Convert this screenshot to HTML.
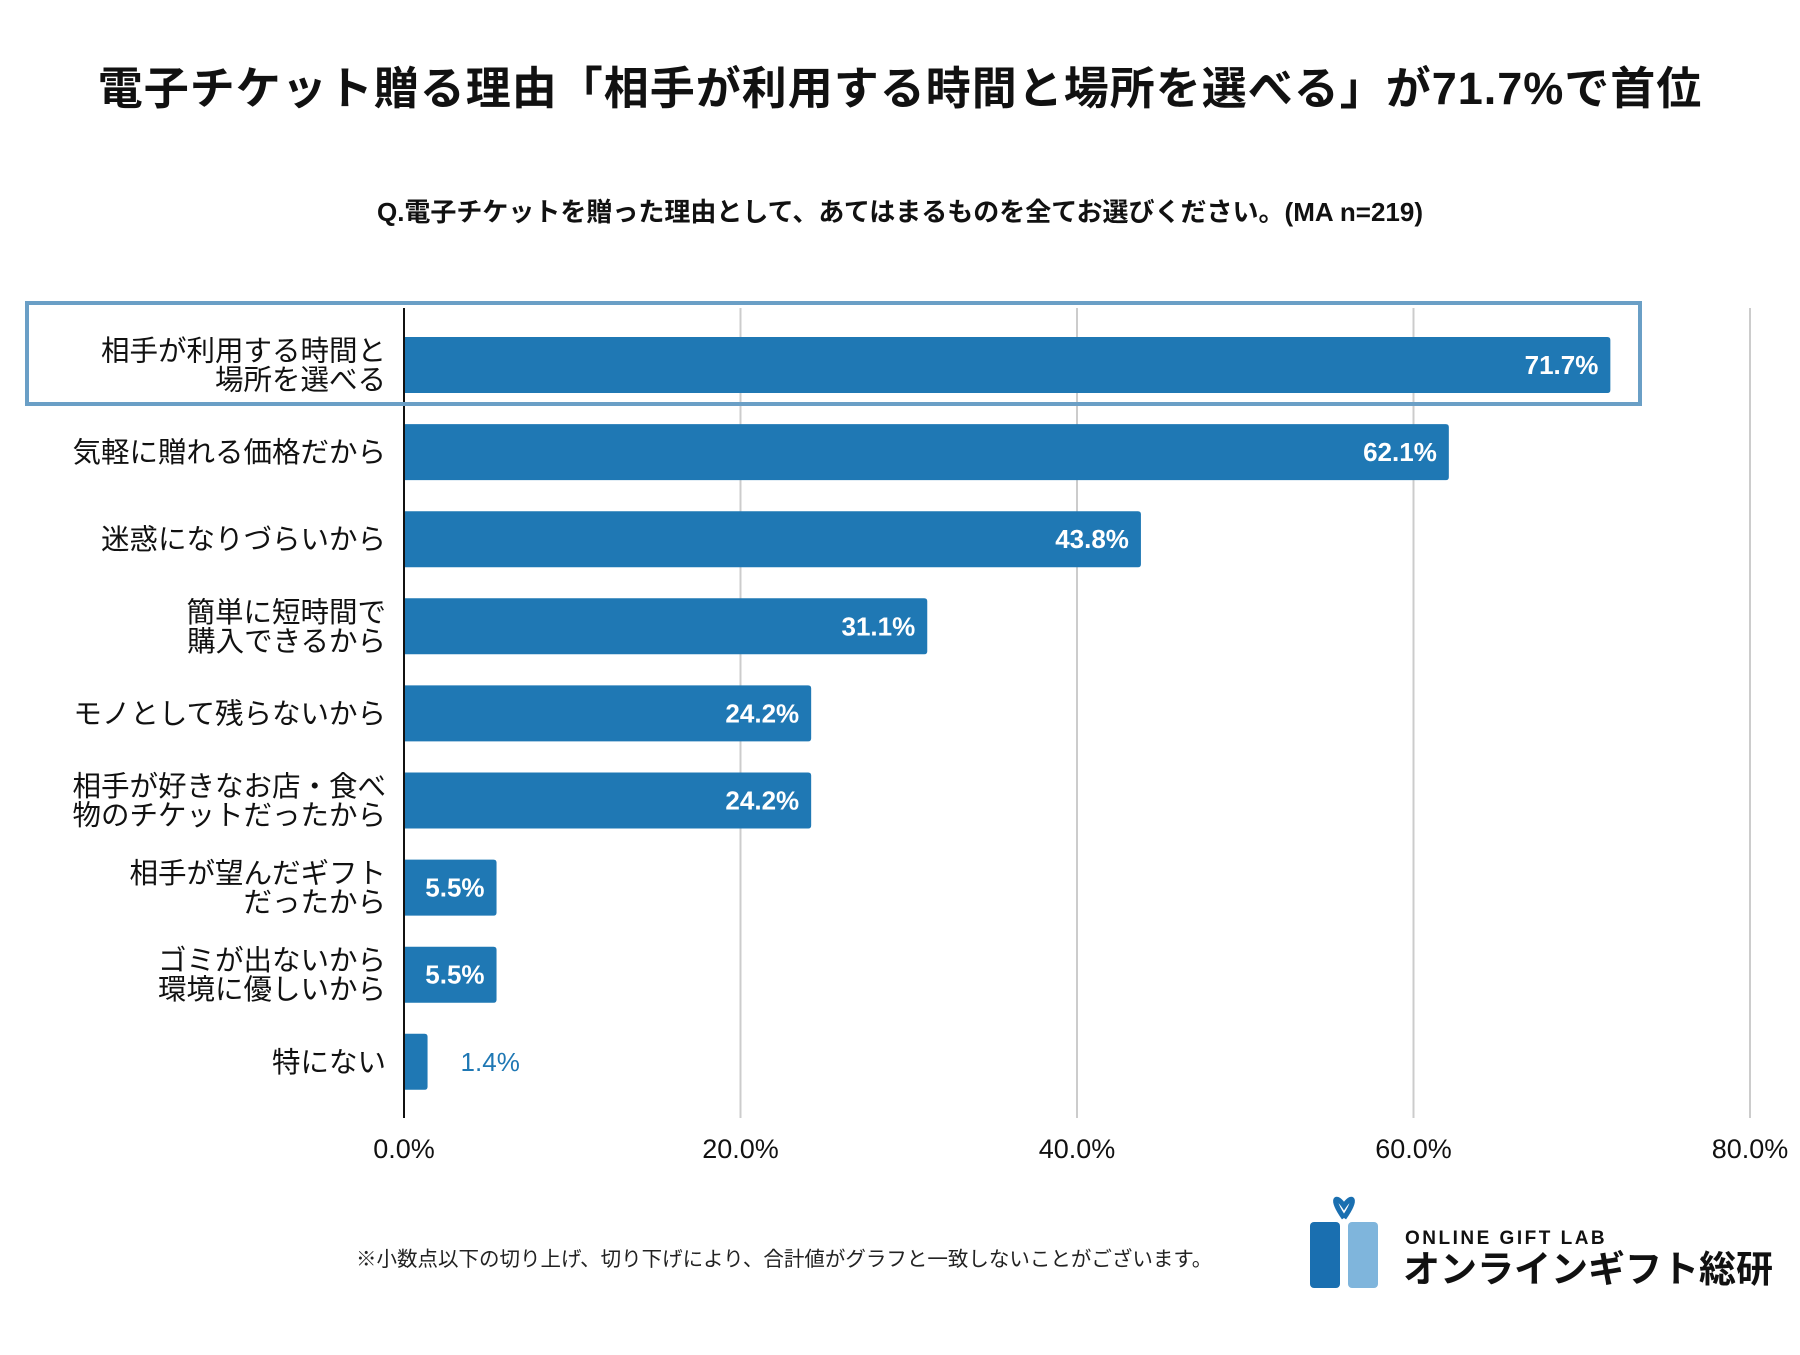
<!DOCTYPE html>
<html><head><meta charset="utf-8">
<style>
body{margin:0;width:1800px;height:1350px;background:#fff;overflow:hidden;font-family:"Liberation Sans","Noto Sans CJK JP",sans-serif;}
svg text{font-family:"Liberation Sans","Noto Sans CJK JP",sans-serif;}
</style></head>
<body>
<svg id="chart" width="1800" height="1350">
<text x="900" y="104" text-anchor="middle" font-size="45" font-weight="bold" letter-spacing="1" fill="#111">電子チケット贈る理由「相手が利用する時間と場所を選べる」が71.7%で首位</text>
<text x="900" y="221" text-anchor="middle" font-size="26" font-weight="bold" fill="#111">Q.電子チケットを贈った理由として、あてはまるものを全てお選びください。(MA n=219)</text>
<g id="grid"></g>
<g id="bars"></g>
<rect x="27" y="303" width="1613" height="101" fill="none" stroke="#6a9fc6" stroke-width="4"/>
<text x="356" y="1266" font-size="20.5" fill="#222">※小数点以下の切り上げ、切り下げにより、合計値がグラフと一致しないことがございます。</text>
<g>
<rect x="1310" y="1222" width="30" height="66" rx="4" fill="#1a6fb0"/>
<rect x="1348" y="1222" width="30" height="66" rx="4" fill="#7fb5dc"/>
<path d="M1344 1218 C1330 1198,1336 1194,1344 1206 C1352 1194,1358 1198,1344 1218" fill="none" stroke="#1a6fb0" stroke-width="5"/>
<text x="1405" y="1244" font-size="19" font-weight="bold" letter-spacing="2.5" fill="#111">ONLINE GIFT LAB</text>
<text x="1403" y="1282" font-size="37" font-weight="bold" letter-spacing="0" fill="#111">オンラインギフト総研</text>
</g>
</svg>
<script>
const categories=[["相手が利用する時間と","場所を選べる"],["気軽に贈れる価格だから"],["迷惑になりづらいから"],["簡単に短時間で","購入できるから"],["モノとして残らないから"],["相手が好きなお店・食べ","物のチケットだったから"],["相手が望んだギフト","だったから"],["ゴミが出ないから","環境に優しいから"],["特にない"]];
const values=[71.7,62.1,43.8,31.1,24.2,24.2,5.5,5.5,1.4];
const valueLabels=["71.7%","62.1%","43.8%","31.1%","24.2%","24.2%","5.5%","5.5%","1.4%"];
const ticks=[0,20,40,60,80];
const tickLabels=["0.0%","20.0%","40.0%","60.0%","80.0%"];
const NS="http://www.w3.org/2000/svg";
const x0=404,pxPer=(1750-404)/80;
const xs=v=>x0+v*pxPer;
const ys=i=>365+i*87.1;
const barH=56;
function mk(tag,attrs,parent,text){const e=document.createElementNS(NS,tag);for(const k in attrs)e.setAttribute(k,attrs[k]);if(text!==undefined)e.textContent=text;parent.appendChild(e);return e;}
const grid=document.getElementById('grid'),bars=document.getElementById('bars');
ticks.forEach((t,i)=>{
  if(t>0){const l=mk('line',{x1:xs(t),x2:xs(t),y1:308,y2:1118,stroke:'#cccccc','stroke-width':2},grid);
  
  }
  const tx=mk('text',{x:xs(t),y:1158,'text-anchor':'middle','font-size':27,fill:'#111'},grid,tickLabels[i]);
  
  
});
values.forEach((v,i)=>{
  const cy=ys(i),w=xs(v)-x0;
  const r=mk('path',{d:`M${x0} ${cy-barH/2} H${x0+w-3} Q${x0+w} ${cy-barH/2} ${x0+w} ${cy-barH/2+3} V${cy+barH/2-3} Q${x0+w} ${cy+barH/2} ${x0+w-3} ${cy+barH/2} H${x0} Z`,fill:'#1f78b4'},bars);
  
  
  const inside=w>60;
  const t=mk('text',{x:inside?xs(v)-12:xs(v)+33,y:cy+9,'text-anchor':inside?'end':'start','font-size':26,'font-weight':inside?'bold':'normal',fill:inside?'#fff':'#1f78b4'},bars,valueLabels[i]);
  
  
  const lines=categories[i];
  const lab=mk('text',{'text-anchor':'end','font-size':28.5,fill:'#111'},bars);
  
  
  lines.forEach((s,j)=>{
    const yy=cy+10+(j-(lines.length-1)/2)*29;
    mk('tspan',{x:386,y:yy},lab,s);
  });
});
const ax=mk('line',{x1:x0,x2:x0,y1:308,y2:1118,stroke:'#111','stroke-width':2},bars);


</script>
</body></html>
